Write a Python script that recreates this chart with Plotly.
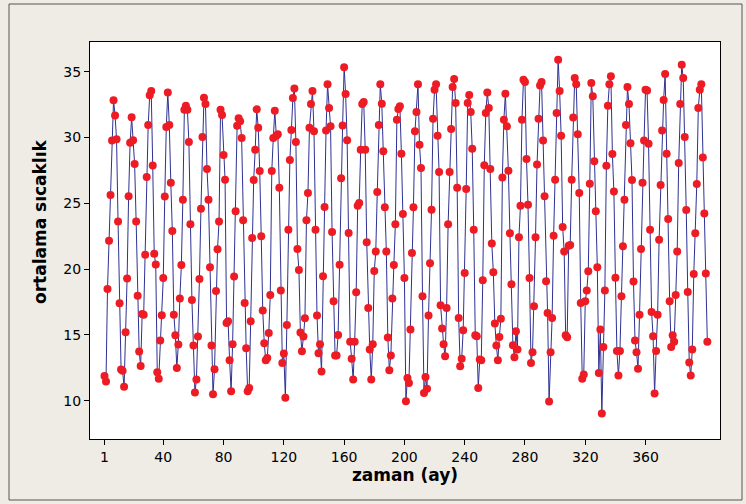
import plotly.graph_objects as go

# monthly mean temperature (in order)
temps_a = [11.87, 11.46, 18.48, 22.15, 25.63, 29.77, 32.83, 31.67, 29.87, 23.61, 17.40, 12.37,
           12.27, 11.06, 15.20, 19.29, 25.53, 29.60, 31.54, 29.80, 27.98, 23.61, 17.98, 13.74,
           12.63, 16.59, 16.54, 21.09, 27.0, 30.96, 33.21, 33.54, 27.88, 21.16, 20.35, 12.17,
           11.67, 14.57, 16.49, 19.33, 25.51, 30.80, 33.43, 30.95, 26.57, 22.90, 16.54, 14.97,
           12.49, 14.27, 17.76, 20.32, 25.28, 32.11, 32.42, 32.11, 29.66, 23.41, 17.66, 14.19,
           10.62, 11.61, 14.87, 19.25, 24.59, 30.04, 33.03, 32.54, 27.61, 25.28, 20.14, 14.19,
           10.49, 12.39, 18.34, 21.51, 23.61, 32.11, 31.71, 28.67, 26.80, 15.91, 16.04, 13.08]
temps_b = [10.72, 14.29, 19.43, 24.39, 30.90, 31.46, 31.23, 29.96, 23.71, 17.43, 13.99, 10.72,
           10.97, 16.04, 22.37, 26.77, 29.08, 32.14, 30.75, 27.46, 22.49, 16.85, 14.37, 13.08,
           13.25, 15.15, 18.04, 27.46, 29.96, 32.04, 30.14, 30.24, 26.19, 18.37, 12.87, 13.58,
           10.22, 15.76, 23.0, 28.29, 30.57, 33.0, 33.73, 29.66, 21.53, 19.94, 15.18, 13.76,
           14.87, 16.27, 23.71, 25.78, 30.75, 32.54, 33.53, 30.47, 23.0, 16.47, 13.61, 14.29,
           12.22, 19.46, 24.72, 30.54, 34.04, 32.24, 30.85, 22.82, 17.56, 13.43, 13.43, 15.0,
           20.34, 26.9, 30.92, 35.35, 33.30, 29.79, 22.75, 14.49, 13.18, 11.61, 14.49, 18.24]
temps_c = [24.82, 25.03, 29.08, 32.54, 32.70, 29.08, 22.04, 17.05, 13.89, 11.61, 14.29, 19.86,
           21.33, 25.86, 30.95, 34.04, 32.57, 28.95, 24.70, 21.33, 14.8, 12.32, 13.43, 17.76,
           20.32, 23.41, 31.35, 32.16, 32.37, 28.77, 24.19, 19.33, 9.96, 11.73, 11.35, 15.41,
           21.23, 24.70, 30.47, 31.94, 34.04, 29.46, 27.68, 17.94, 10.59, 11.81, 10.90, 16.47,
           20.44, 24.52, 31.43, 33.63, 34.04, 30.14, 27.38, 17.25, 15.48, 14.29, 13.38, 17.05,
           23.41, 27.38, 30.65, 33.84, 34.44, 32.62, 26.19, 16.29, 12.62, 13.18, 15.35, 19.71,
           26.09, 32.62, 33.23, 31.94, 29.15, 23.0, 14.97, 14.89, 10.97, 13.13, 13.08, 19.15]
temps_d = [27.89, 31.86, 33.43, 32.24, 27.61, 21.94, 19.76, 15.86, 14.19, 13.08, 14.85, 16.22,
           26.97, 31.35, 33.33, 30.85, 27.48, 22.72, 18.85, 14.22, 13.30, 15.28, 13.89, 22.42,
           24.82, 31.35, 34.39, 34.22, 28.37, 24.90, 19.33, 12.87, 13.68, 17.18, 22.42, 27.96,
           31.43, 33.96, 34.22, 29.78, 25.53, 19.08, 16.67, 9.94, 13.68, 16.29, 22.54, 26.80,
           31.86, 35.91, 33.53, 30.14, 23.20, 21.33, 14.97, 14.82, 21.78, 21.84, 26.80, 31.53,
           34.52, 34.04, 30.24, 25.78, 17.43, 11.66, 11.99, 17.56, 18.37, 19.84, 26.49, 34.14]
temps_e = [33.13, 28.19, 24.39, 20.14, 12.11, 15.41, 9.03, 14.09, 18.37, 27.86, 32.42, 34.04,
           34.65, 28.75, 25.89, 19.35, 13.78, 11.91, 13.78, 17.94, 21.73, 25.28, 30.95, 33.84,
           32.54, 29.56, 26.77, 19.05, 14.57, 13.68, 12.42, 16.54, 21.53, 26.57, 29.78, 33.63,
           33.58, 29.53, 23.0, 16.75, 14.9, 10.54, 13.78, 16.54, 22.24, 26.39, 30.54, 32.85,
           34.82, 28.77, 23.81, 17.56, 14.09, 14.97, 14.49, 18.04, 21.33, 28.06, 32.54, 35.53,
           34.52, 30.04, 24.49, 18.27, 12.90, 11.91, 13.89, 19.63, 22.72, 26.47, 32.24, 33.63,
           34.04, 28.49, 24.22, 19.66, 14.49]

temps = temps_a + temps_b + temps_c + temps_d + temps_e
months = list(range(1, len(temps) + 1))

x_ticks = [1, 40, 80, 120, 160, 200, 240, 280, 320, 360]
y_ticks = [10, 15, 20, 25, 30, 35]

x_title = "zaman (ay)"
y_title = "ortalama sıcaklık"

fig = go.Figure()
fig.add_trace(go.Scatter(
    x=months, y=temps, mode="lines+markers",
    line=dict(color="#2E3192", width=1),
    marker=dict(color="#ED1C24", size=8, line=dict(width=0)),
    showlegend=False, hoverinfo="skip"))

W, H = 746, 504
L, R, T, B = 90, 26, 42, 65
pw, ph = W - L - R, H - T - B

fig.update_layout(
    width=W, height=H,
    margin=dict(l=L, r=R, t=T, b=B, pad=0),
    paper_bgcolor="#EFECE6",
    plot_bgcolor="white",
    font=dict(family="DejaVu Sans", size=14, color="black"),
    xaxis=dict(range=[-8.62, 409.4], tickmode="array", tickvals=x_ticks,
               ticks="outside", ticklen=5, tickwidth=1, tickcolor="black",
               showgrid=False, zeroline=False, showline=True, linecolor="black",
               linewidth=1, mirror=True,
               title=dict(text="<b>" + x_title + "</b>", font=dict(size=17), standoff=5)),
    yaxis=dict(range=[7.09, 37.26], tickmode="array", tickvals=y_ticks,
               ticks="outside", ticklen=5, tickwidth=1, tickcolor="black",
               showgrid=False, zeroline=False, showline=True, linecolor="black",
               linewidth=1, mirror=True),
    annotations=[dict(text="<b>" + y_title + "</b>", xref="paper", yref="paper",
                      x=-(L - 40) / pw, y=(H - B - 222) / ph, textangle=-90,
                      showarrow=False, font=dict(size=17),
                      xanchor="center", yanchor="middle")],
    shapes=[dict(type="rect", xref="paper", yref="paper",
                 x0=-(L - 9) / pw, x1=1 + (R - 4) / pw,
                 y0=-(B - 4) / ph, y1=1 + (T - 4) / ph,
                 line=dict(color="#555555", width=1), fillcolor="rgba(0,0,0,0)")],
)

fig.write_html("out.html", config={"displayModeBar": False},
               post_script="document.body.style.margin='0';document.body.style.overflow='hidden';")
